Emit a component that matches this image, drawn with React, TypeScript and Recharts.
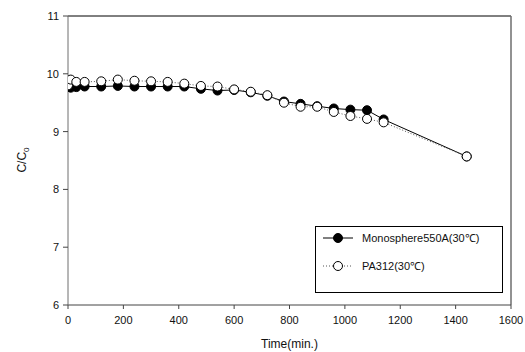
import React from "react";
import { Line, LineChart, ReferenceLine, XAxis, YAxis } from "recharts";

const times = [
  0, 10, 30, 60, 120, 180, 240, 300, 360, 420, 480, 540, 600, 660, 720, 780,
  840, 900, 960, 1020, 1080, 1140, 1440,
];
const monosphere = [
  9.79, 9.76, 9.77, 9.78, 9.78, 9.79, 9.78, 9.78, 9.78, 9.78, 9.74, 9.71, 9.72,
  9.68, 9.62, 9.52, 9.48, 9.44, 9.4, 9.38, 9.37, 9.21, 8.57,
];
const pa312 = [
  9.8, 9.9, 9.86, 9.86, 9.87, 9.9, 9.88, 9.87, 9.86, 9.83, 9.79, 9.78, 9.73,
  9.69, 9.63, 9.5, 9.43, 9.43, 9.34, 9.27, 9.22, 9.16, 8.57,
];
const xTicks = [0, 200, 400, 600, 800, 1000, 1200, 1400, 1600];
const yTicks = [6, 7, 8, 9, 10, 11];

const monoData = times.map((t, i) => ({ t, v: monosphere[i] }));
const paData = times.map((t, i) => ({ t, v: pa312[i] }));

const font = "'Liberation Sans', Arial, sans-serif";
const axisGray = "#6e6e6e";

// legend drawn as an overlay box inside the plot
const LegendBox = () => (
  <div
    style={{
      position: "absolute",
      left: 315,
      top: 226,
      width: 188,
      height: 67,
      border: "1px solid #000",
      background: "#fff",
      boxSizing: "border-box",
    }}
  >
    <svg width={186} height={65} style={{ position: "absolute", left: 0, top: 0 }}>
      <line x1={7} x2={37} y1={11} y2={11} stroke="#000" strokeWidth={1} />
      <circle cx={22} cy={11} r={4.5} fill="#000" stroke="#000" />
      <line x1={7} x2={37} y1={39} y2={39} stroke="#555" strokeDasharray="1 2" />
      <circle cx={22} cy={39} r={4.5} fill="#fff" stroke="#000" />
      <text x={46} y={15} fontFamily={font} fontSize={11} fill="#111">
        Monosphere550A(30℃)
      </text>
      <text x={46} y={43} fontFamily={font} fontSize={11} fill="#111">
        PA312(30℃)
      </text>
    </svg>
  </div>
);

const YLabel = () => (
  <text
    x={0}
    y={0}
    transform="translate(26,160) rotate(-90)"
    textAnchor="middle"
    fontFamily={font}
    fontSize={12}
    fill="#111"
  >
    C/C
    <tspan fontSize={8} dy={3}>
      0
    </tspan>
  </text>
);

export default function App() {
  return (
    <div
      style={{
        position: "absolute",
        left: 0,
        top: 0,
        width: 525,
        height: 352,
        background: "#fff",
      }}
    >
      <LineChart
        width={525}
        height={352}
        margin={{ top: 16, right: 14, left: 28, bottom: 0 }}
      >
        <XAxis
          type="number"
          dataKey="t"
          domain={[0, 1600]}
          ticks={xTicks}
          interval={0}
          allowDataOverflow
          axisLine={{ stroke: "#444" }}
          tickLine={{ stroke: "#444" }}
          tickSize={4}
          tick={{ fill: "#111", fontSize: 11, fontFamily: font, dy: 5 }}
          label={{
            value: "Time(min.)",
            position: "insideBottom",
            offset: 0,
            dy: -4,
            fill: "#111",
            fontSize: 12,
            fontFamily: font,
          }}
          height={47}
        />
        <YAxis
          type="number"
          domain={[6, 11]}
          ticks={yTicks}
          interval={0}
          width={40}
          axisLine={{ stroke: axisGray }}
          tickLine={{ stroke: "#444" }}
          tickSize={5}
          tick={{ fill: "#111", fontSize: 11, fontFamily: font, dx: -2 }}
          label={<YLabel />}
        />
        <ReferenceLine y={11} stroke="#000" strokeWidth={1} />
        <ReferenceLine x={1600} stroke={axisGray} strokeWidth={1.5} />
        <Line
          data={monoData}
          dataKey="v"
          name="Monosphere550A(30℃)"
          stroke="#000"
          strokeWidth={1}
          dot={{ r: 4.5, fill: "#000", stroke: "#000", strokeWidth: 1 }}
          isAnimationActive={false}
        />
        <Line
          data={paData}
          dataKey="v"
          name="PA312(30℃)"
          stroke="#555"
          strokeWidth={1}
          strokeDasharray="1 2"
          dot={{ r: 4.5, fill: "#fff", stroke: "#000", strokeWidth: 1, strokeDasharray: "" }}
          isAnimationActive={false}
        />
      </LineChart>
      <LegendBox />
    </div>
  );
}
